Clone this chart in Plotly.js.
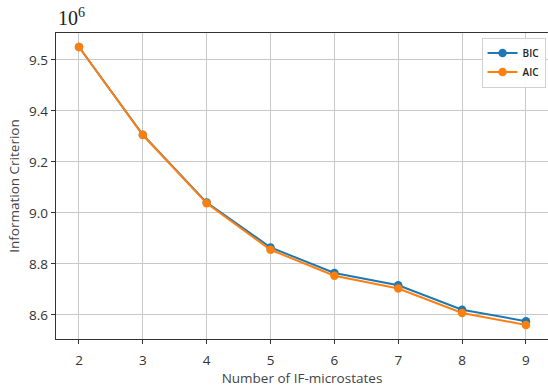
<!DOCTYPE html>
<html>
<head>
<meta charset="utf-8">
<script src="https://cdn.plot.ly/plotly-3.0.1.min.js"></script>
<style>html,body{margin:0;padding:0;background:#fff;}#chart{width:548px;height:389px;}</style>
</head>
<body>
<div id="chart"></div>
<script>
const states = [2, 3, 4, 5, 6, 7, 8, 9];
const bic = [9.650, 9.306, 9.040, 8.864, 8.764, 8.716, 8.620, 8.575];
const aic = [9.650, 9.305, 9.037, 8.855, 8.753, 8.703, 8.607, 8.560];
const yTickVals = [8.6, 8.8, 9.0, 9.2, 9.4, 9.6];
const yTickText = ["8.6", "8.8", "9.0", "9.2", "9.4", "9.5"];
const xTickVals = [2, 3, 4, 5, 6, 7, 8, 9];

const font = "Open Sans, Noto Sans, sans-serif";
const traces = [
  {x: states, y: bic, name: "BIC", type: "scatter", mode: "lines+markers",
   line: {color: "#1f77b4", width: 2}, marker: {color: "#1f77b4", size: 8.5}},
  {x: states, y: aic, name: "AIC", type: "scatter", mode: "lines+markers",
   line: {color: "#ff7f0e", width: 2}, marker: {color: "#ff7f0e", size: 8.5}}
];
const layout = {
  width: 548, height: 389,
  margin: {l: 56, r: 0, t: 33, b: 50},
  paper_bgcolor: "#fff", plot_bgcolor: "#fff",
  font: {family: font, color: "#333", size: 13},
  showlegend: true,
  legend: {x: 0.995, xanchor: "right", y: 0.985, yanchor: "top",
    bgcolor: "rgba(255,255,255,0.9)", bordercolor: "#d0d0d0", borderwidth: 1,
    font: {size: 10, color: "#222", weight: 600}, itemwidth: 30, tracegroupgap: 0},
  xaxis: {range: [1.64, 9.345], tickvals: xTickVals, ticks: "outside", ticklen: 4,
    tickcolor: "#333", showline: true, linecolor: "#333", linewidth: 1.2, mirror: true,
    showgrid: true, gridcolor: "#c8c8c8", gridwidth: 1, zeroline: false,
    ticklabelstandoff: 5,
    tickfont: {size: 13.5, color: "#333"},
    title: {text: "Number of IF-microstates", font: {size: 13.5, color: "#444"}, standoff: 4}},
  yaxis: {range: [8.505, 9.705], tickvals: yTickVals, ticktext: yTickText, ticks: "outside", ticklen: 4,
    tickcolor: "#333", showline: true, linecolor: "#333", linewidth: 1.2, mirror: true,
    showgrid: true, gridcolor: "#c8c8c8", gridwidth: 1, zeroline: false,
    tickfont: {size: 13.5, color: "#333"},
    title: {text: "Information Criterion", font: {size: 13.5, color: "#444"}, standoff: 6}},
  annotations: [{text: "10<sup>6</sup>", xref: "paper", yref: "paper", x: 0, y: 1,
    xanchor: "left", yanchor: "bottom", yshift: 2, showarrow: false,
    font: {family: "Liberation Serif, DejaVu Serif, serif", size: 20, color: "#222"}}]
};
Plotly.newPlot("chart", traces, layout, {displayModeBar: false, staticPlot: true});
</script>
</body>
</html>
